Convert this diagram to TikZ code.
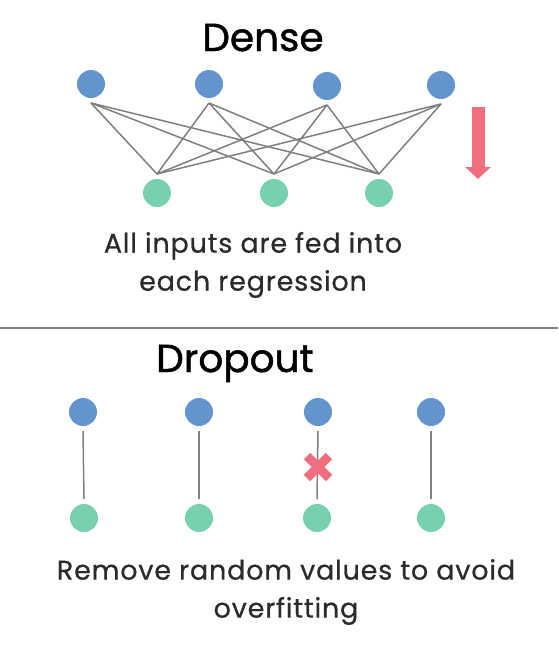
\documentclass[tikz,border=0pt]{standalone}
\usepackage{fontspec}
\setmainfont{Poppins}
\usetikzlibrary{arrows.meta}
\definecolor{inblue}{HTML}{6394CE}
\definecolor{outgreen}{HTML}{78D1AE}
\definecolor{dropred}{HTML}{F06E80}
\definecolor{wiregray}{HTML}{7F7F7F}
\definecolor{txtgray}{HTML}{2B2B2B}

\begin{document}
\begin{tikzpicture}[x=1pt,y=-1pt,
    unit/.style={shape=circle,minimum size=28pt,inner sep=0pt,outer sep=5pt},
    inunit/.style={unit,fill=inblue},
    outunit/.style={unit,fill=outgreen},
    wire/.style={wiregray,line width=1.5pt},
    heading/.style={anchor=base,font=\fontsize{39}{44}\selectfont\addfontfeature{FakeBold=1.2}},
    caption/.style={font=\fontsize{27}{38}\selectfont\addfontfeature{LetterSpace=3,FakeBold=0.6},
      text=txtgray,align=center}]
  \useasboundingbox (0,0) rectangle (558,648);
  % dense
  \node[heading] (dense) at (263,51) {Dense};
  \node[inunit] (d1) at (91,84) {};
  \node[inunit] (d2) at (209,84) {};
  \node[inunit] (d3) at (327,86) {};
  \node[inunit] (d4) at (441,85) {};
  \node[outunit] (o1) at (157,193) {};
  \node[outunit] (o2) at (274,193) {};
  \node[outunit] (o3) at (379,193) {};
  \foreach \i in {1,...,4}
    \foreach \j in {1,2,3}
      \draw[wire] (d\i.south) -- (o\j.north);
  \coordinate (arrtail) at (478,107);
  \coordinate (arrtip) at (478,179);
  \draw[dropred,line width=13pt,-{Triangle[width=25pt,length=12pt]}] (arrtail) -- (arrtip);
  \node[caption] (densetxt) at (253,265) {All inputs are fed into\\each regression};
  \draw[wiregray,line width=1.5pt] (0,328) -- (558,328);
  % dropout
  \node[heading] (dropout) at (235,372) {Dropout};
  \node[inunit] (p1) at (83,412) {};
  \node[inunit] (p2) at (199,412) {};
  \node[inunit] (p3) at (318,412) {};
  \node[inunit] (p4) at (431,412) {};
  \node[outunit] (q1) at (84,518) {};
  \node[outunit] (q2) at (199,518) {};
  \node[outunit] (q3) at (317,518) {};
  \node[outunit] (q4) at (431,518) {};
  \foreach \i in {1,...,4}
    \draw[wire] (p\i.south) -- (q\i.north);
  \coordinate (cut) at (318,467);
  \draw[dropred,line width=9pt] ([shift={(-11,-11)}]cut) -- ([shift={(11,11)}]cut)
    ([shift={(-11,11)}]cut) -- ([shift={(11,-11)}]cut);
  \node[caption] (droptxt) at (286,592) {Remove random values to avoid\\overfitting};
\end{tikzpicture}
\end{document}
